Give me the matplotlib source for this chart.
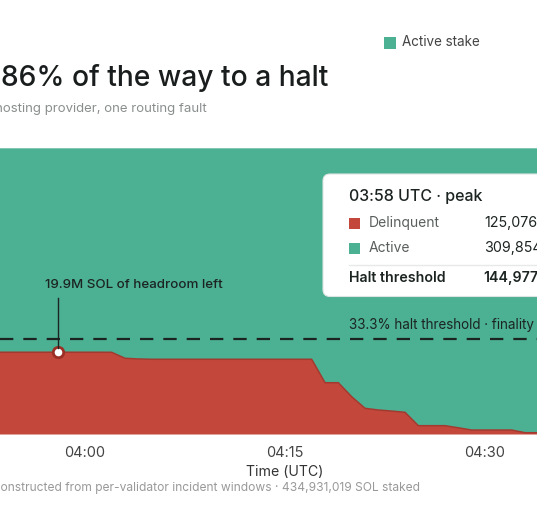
import matplotlib
matplotlib.use("Agg")
import matplotlib.pyplot as plt
from matplotlib.patches import FancyBboxPatch, Rectangle
from matplotlib.transforms import IdentityTransform
import pandas as pd

plt.rcParams['font.family'] = ['Inter', 'DejaVu Sans']

# data (SOL, millions) ------------------------------------------------------
TOTAL_STAKE = 434.931019
times = ["03:53", "03:54", "03:55", "03:56", "03:57", "03:58", "03:59",
         "04:00", "04:01", "04:02", "04:03", "04:04", "04:05", "04:06",
         "04:07", "04:08", "04:09", "04:10", "04:11", "04:12", "04:13",
         "04:14", "04:15", "04:16", "04:17", "04:18", "04:19", "04:20",
         "04:21", "04:22", "04:23", "04:24", "04:25", "04:26", "04:27",
         "04:28", "04:29", "04:30", "04:31", "04:32", "04:33", "04:34"]
delinquent = [125.0, 125.0, 125.0, 125.0, 125.0, 125.076412, 125.0,
              125.0, 125.0, 124.9, 115.8, 114.8, 114.3, 114.3,
              114.3, 114.3, 114.3, 114.3, 114.3, 114.3, 114.3,
              114.3, 114.3, 114.3, 114.3, 78.7, 78.7, 57.4,
              39.8, 37.2, 35.6, 33.7, 13.4, 13.4, 13.4,
              10.2, 6.8, 6.8, 6.8, 6.8, 2.7, 2.7]
active = [TOTAL_STAKE - d for d in delinquent]
halt_frac = 1 / 3
peak_time = "03:58"

tick_labels = ["04:00", "04:15", "04:30"]
tooltip_rows = [("Delinquent", "125,076,412"), ("Active", "309,854,607")]
threshold_text = "144,977,006"

RED = "#c4473b"
RED_EDGE = "#a23a30"
GREEN = "#4cb092"
INK = "#1c2422"

W, H = 537, 512
fig = plt.figure(figsize=(W / 100, H / 100), dpi=100)


def fx(x):
    return x / W


def fy(y):
    return 1 - y / H


ax = fig.add_axes([0, fy(434.5), 1, (434.5 - 148.3) / H])
t = pd.to_datetime(["2024-01-01 " + s for s in times])
ax.stackplot(t, delinquent, active, colors=[RED, GREEN], linewidth=0)
ax.plot(t, delinquent, color=RED_EDGE, lw=1.1)
ax.axhline(TOTAL_STAKE * halt_frac, color=INK, lw=1.6, dashes=(6, 4.5))

pk = t[times.index(peak_time)]
pk_val = delinquent[times.index(peak_time)]
ax.plot([pk], [pk_val], marker="o", ms=7.5, mfc="white", mec="#9b2f26",
        mew=2, zorder=5)

ax.set_ylim(0, TOTAL_STAKE)
start = pd.Timestamp("2024-01-01 04:00")
ax.set_xlim(start - pd.Timedelta(minutes=6.38),
            start + pd.Timedelta(minutes=33.9))
ax.set_xticks(pd.to_datetime(["2024-01-01 " + s for s in tick_labels]))
ax.set_xticklabels(tick_labels)
ax.tick_params(axis="x", length=0, pad=8, labelsize=10.5, labelcolor="#444")
ax.set_yticks([])
for s in ax.spines.values():
    s.set_visible(False)

# leader line from the peak marker up to its label
fig.add_artist(plt.Line2D([fx(58), fx(58)], [fy(347.5), fy(298)],
                          color=INK, lw=1))
fig.text(fx(45), fy(285), "19.9M SOL of headroom left", fontsize=9.6,
         color=INK, va="center", fontweight="medium")

fig.text(fx(349), fy(325), "33.3% halt threshold · finality",
         fontsize=9.7, color=INK, va="center")

# tooltip box
box = FancyBboxPatch((323, H - 296.5), 260, 122.5,
                     boxstyle="round,pad=0,rounding_size=7",
                     transform=IdentityTransform(), fc="white",
                     ec="#dde5e2", lw=0.8)
fig.add_artist(box)
fig.text(fx(349), fy(196), "03:58 UTC · peak", fontsize=11.5,
         color=INK, va="center", fontweight="medium")
for i, (name, val) in enumerate(tooltip_rows):
    y = 223 + 25 * i
    col = RED if i == 0 else GREEN
    fig.add_artist(Rectangle((349, H - y - 5.5), 11, 11, fc=col, ec="none",
                             transform=IdentityTransform()))
    fig.text(fx(369), fy(y), name, fontsize=10, color="#5a5f5e",
             va="center")
    fig.text(fx(484), fy(y), val, fontsize=10.3, color=INK, va="center")
fig.add_artist(plt.Line2D([fx(349), fx(560)], [fy(264.5), fy(264.5)],
                          color="#e6e9e8", lw=1))
fig.text(fx(349), fy(278), "Halt threshold", fontsize=10.2, color=INK,
         va="center", fontweight="semibold")
fig.text(fx(483), fy(278), threshold_text, fontsize=10.2, color=INK,
         va="center", fontweight="semibold")

# titles and legend
fig.text(fx(1), fy(78), "86% of the way to a halt", fontsize=20.3,
         color="#1a1d1d", va="center", fontweight="medium")
fig.text(fx(207), fy(109), "One hosting provider, one routing fault",
         fontsize=9.5, color="#8a8f8e", va="center", ha="right")
fig.add_artist(Rectangle((384, H - 49), 12, 12, fc=GREEN, ec="none",
                         transform=IdentityTransform()))
fig.text(fx(402), fy(42), "Active stake", fontsize=9.7, color="#444",
         va="center")

fig.text(fx(285), fy(471.5), "Time (UTC)", fontsize=10.2, color="#333",
         va="center", ha="center")
fig.text(fx(420), fy(488),
         "Reconstructed from per-validator incident windows · "
         "434,931,019 SOL staked",
         fontsize=8.65, color="#999", va="center", ha="right")

fig.savefig("out.png", dpi=100)
